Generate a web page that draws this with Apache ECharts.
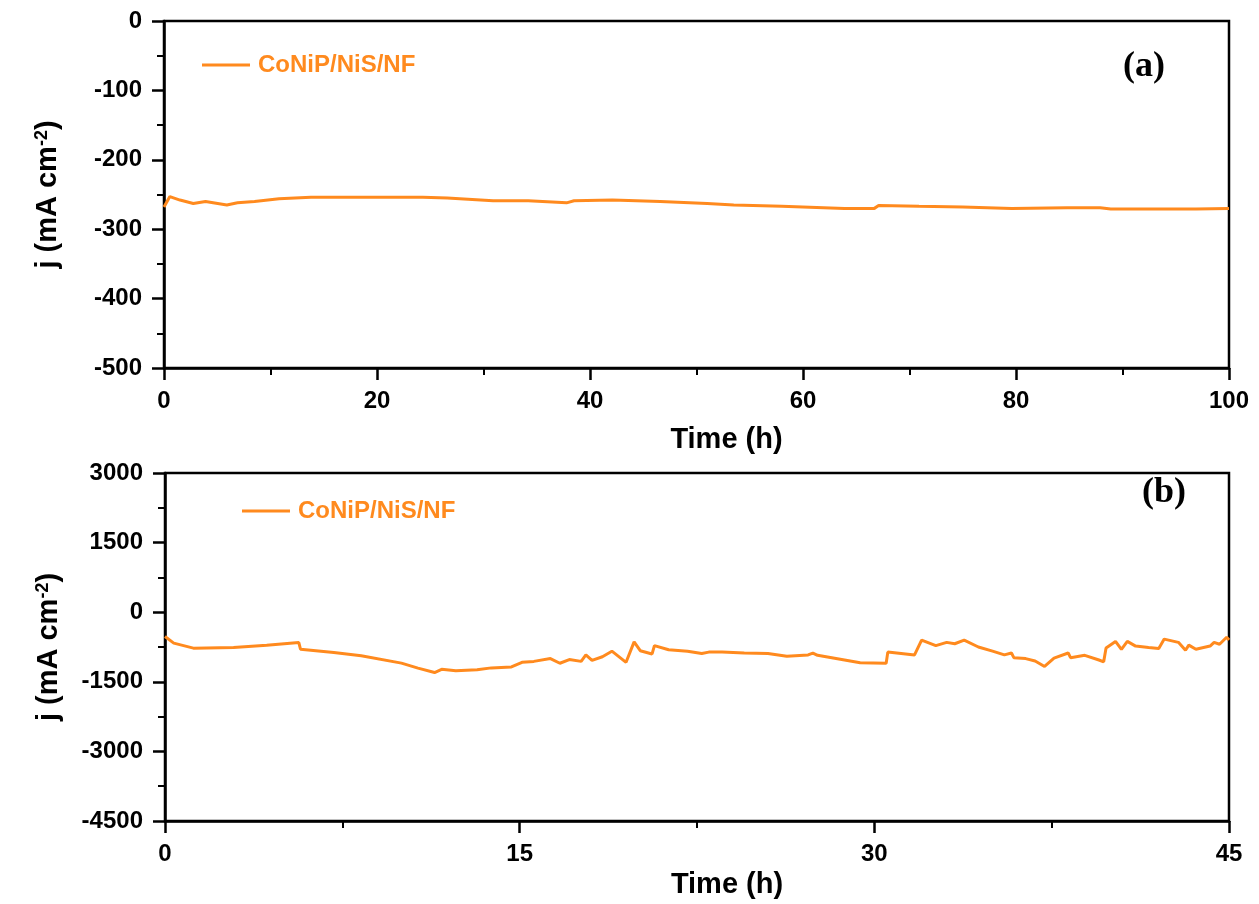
<!DOCTYPE html>
<html>
<head>
<meta charset="utf-8">
<title>CoNiP/NiS/NF stability</title>
<script src="https://cdn.jsdelivr.net/npm/echarts@6/dist/echarts.min.js"></script>
<style>
  html, body { margin: 0; padding: 0; background: #fff; }
  #chart { width: 1259px; height: 904px; }
</style>
</head>
<body>
<div id="chart"></div>
<script>
// (a) chronoamperometry, 100 h  -- [time h, j mA cm-2]
const seriesA = [
  [0, -268], [0.55, -253], [1.5, -258], [2.75, -263], [3.9, -260], [5.9, -265],
  [6.9, -262], [8.5, -260], [10.8, -256], [13.8, -254], [18, -254], [24.3, -254],
  [26.6, -255], [30.9, -259], [34.2, -259], [37.8, -262], [38.5, -259], [42.1, -258],
  [46.6, -260], [51, -263], [53.5, -265], [58, -267], [63.9, -270], [66.7, -270],
  [67.1, -266], [70.9, -267], [75, -268], [79.6, -270], [84.8, -269], [87.9, -269],
  [88.9, -271], [93, -271], [96.9, -271], [100, -270]
];

// (b) chronoamperometry, 45 h
const seriesB = [
  [0, -525], [0.37, -667], [1.2, -775], [2.9, -762], [4.3, -710], [5.66, -654],
  [5.73, -796], [7.14, -869], [8.3, -940], [10, -1098], [10.7, -1205], [11.4, -1300],
  [11.7, -1230], [12.3, -1260], [13.2, -1240], [13.8, -1200], [14.65, -1180], [15.1, -1080],
  [15.6, -1060], [16.3, -1000], [16.7, -1100], [17.1, -1020], [17.6, -1060], [17.8, -920],
  [18.06, -1040], [18.5, -960], [18.9, -840], [19.5, -1080], [19.84, -640], [20.1, -830],
  [20.6, -900], [20.7, -720], [21.3, -810], [22.1, -840], [22.7, -890], [23, -860],
  [23.56, -860], [24.5, -880], [25.5, -890], [26.3, -950], [27.2, -920], [27.4, -880],
  [27.6, -930], [28.5, -1010], [29.4, -1090], [30.5, -1100], [30.57, -860], [31.7, -920],
  [32, -600], [32.3, -660], [32.6, -720], [33.06, -650], [33.4, -680], [33.8, -600],
  [34.4, -750], [35.0, -840], [35.5, -920], [35.8, -880], [35.9, -980], [36.4, -1000],
  [36.8, -1050], [37.2, -1170], [37.6, -990], [38.2, -880], [38.3, -980], [38.9, -930],
  [39.5, -1030], [39.7, -1070], [39.8, -770], [40.2, -630], [40.45, -800], [40.7, -630],
  [41.05, -730], [41.6, -760], [42.03, -780], [42.26, -580], [42.86, -650], [43.16, -820],
  [43.3, -710], [43.6, -800], [44.2, -730], [44.37, -650], [44.6, -690], [44.9, -540], [45, -600]
];

const seriesName = 'CoNiP/NiS/NF';
const lineColor = '#FF8A1E';
const font = '"Liberation Sans", Arial, sans-serif';

const chart = echarts.init(document.getElementById('chart'), null, { renderer: 'canvas' });

const tickLabel = {
  fontSize: 24, fontWeight: 'bold', color: '#000', fontFamily: font,
  formatter: (v) => String(v)
};
const nameStyle = {
  fontSize: 29, fontWeight: 'bold', color: '#000', fontFamily: font,
  rich: {
    sup: { fontSize: 18, fontWeight: 'bold', fontFamily: font, color: '#000', verticalAlign: 'top', lineHeight: 14 }
  }
};

function xAxis(gridIndex, max, interval, gap) {
  return {
    type: 'value',
    gridIndex: gridIndex,
    min: 0,
    max: max,
    interval: interval,
    name: 'Time (h)',
    nameLocation: 'middle',
    nameGap: gap,
    nameTextStyle: Object.assign({}, nameStyle, { padding: [0, 0, 0, 60] }),
    axisLine: { show: true, onZero: false, lineStyle: { color: '#000', width: 2.5 } },
    axisTick: { show: true, inside: false, length: 12, lineStyle: { color: '#000', width: 2.5 } },
    minorTick: { show: true, splitNumber: 2, length: 7, lineStyle: { color: '#000', width: 2 } },
    axisLabel: Object.assign({ margin: 21 }, tickLabel),
    splitLine: { show: false }
  };
}

function yAxis(gridIndex, min, max, interval) {
  return {
    type: 'value',
    gridIndex: gridIndex,
    min: min,
    max: max,
    interval: interval,
    name: 'j (mA cm{sup|-2})',
    nameLocation: 'middle',
    nameGap: 102,
    nameTextStyle: Object.assign({}, nameStyle, { padding: [0, 0, 0, 0] }),
    axisLine: { show: true, onZero: false, lineStyle: { color: '#000', width: 2.5 } },
    axisTick: { show: true, inside: false, length: 12, lineStyle: { color: '#000', width: 2.5 } },
    minorTick: { show: true, splitNumber: 2, length: 7, lineStyle: { color: '#000', width: 2 } },
    axisLabel: Object.assign({ margin: 22 }, tickLabel),
    splitLine: { show: false }
  };
}

function legend(left, top) {
  return {
    left: left,
    top: top,
    data: [seriesName],
    icon: 'rect',
    itemWidth: 48,
    itemHeight: 3,
    selectedMode: false,
    textStyle: { fontSize: 24, fontWeight: 'bold', color: lineColor, fontFamily: font, padding: [0, 0, 0, 3] }
  };
}

const option = {
  backgroundColor: '#fff',
  animation: false,
  grid: [
    { left: 164, top: 21, width: 1065, height: 347, show: true, borderColor: '#000', borderWidth: 2.5, backgroundColor: 'transparent' },
    { left: 165, top: 473, width: 1064, height: 348, show: true, borderColor: '#000', borderWidth: 2.5, backgroundColor: 'transparent' }
  ],
  xAxis: [xAxis(0, 100, 20, 57), xAxis(1, 45, 15, 49)],
  yAxis: [yAxis(0, -500, 0, 100), yAxis(1, -4500, 3000, 1500)],
  legend: [legend(197, 48), legend(237, 494)],
  graphic: [
    { type: 'text', left: 1123, top: 49, style: { text: '(a)', font: 'bold 36px "Liberation Serif", "Times New Roman", serif', fill: '#000' } },
    { type: 'text', left: 1142, top: 475, style: { text: '(b)', font: 'bold 36px "Liberation Serif", "Times New Roman", serif', fill: '#000' } }
  ],
  series: [
    {
      name: seriesName,
      type: 'line',
      xAxisIndex: 0,
      yAxisIndex: 0,
      data: seriesA,
      showSymbol: false,
      lineStyle: { color: lineColor, width: 3 },
      itemStyle: { color: lineColor }
    },
    {
      name: seriesName,
      type: 'line',
      xAxisIndex: 1,
      yAxisIndex: 1,
      data: seriesB,
      showSymbol: false,
      lineStyle: { color: lineColor, width: 3 },
      itemStyle: { color: lineColor }
    }
  ]
};

chart.setOption(option);
window.addEventListener('resize', () => chart.resize());
</script>
</body>
</html>
